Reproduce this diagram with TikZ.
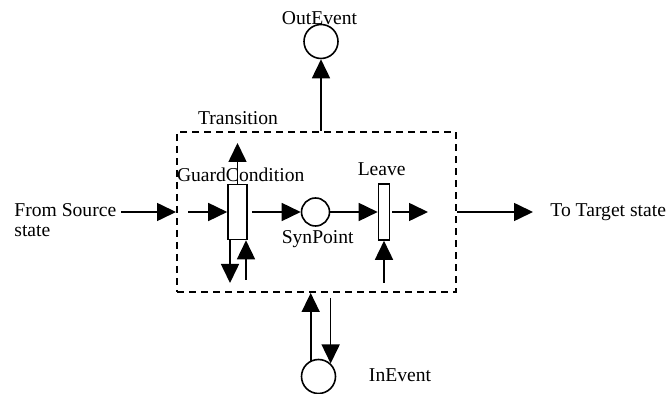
\documentclass[tikz,border=0pt]{standalone}
\usepackage{fontspec}
\setmainfont{Liberation Serif}
\usetikzlibrary{arrows.meta}

\tikzset{
  arr/.style={line width=0.8pt,-{Triangle[length=9.5pt,width=9pt]}},
  bar/.style={draw,line width=0.8pt,minimum width=9.5pt,minimum height=27.5pt,inner sep=0pt},
  place/.style={draw,circle,line width=0.8pt,minimum size=17pt,inner sep=0pt},
  lbl/.style={inner sep=0pt,anchor=base,font=\fontsize{9.8}{10}\selectfont},
}

\begin{document}
\begin{tikzpicture}[x=0.5pt,y=-0.5pt]
\useasboundingbox (0,0) rectangle (668,394);

%% transition box
\node[draw,dash pattern=on 3.5pt off 2.5pt,line width=1pt,minimum width=139.5pt,minimum height=80pt,inner sep=0pt] (trans) at (316.5,212) {};

%% bars and places
\node[bar] (guard) at (237.5,212) {};
\node[bar,minimum width=5.5pt,minimum height=28pt] (leave) at (384,212) {};
\node[place,minimum size=14pt] (syn) at (315.5,212) {};
\node[place] (outev) at (321,41.5) {};
\node[place] (inev) at (318.5,376.5) {};

%% labels
\node[lbl] (translbl) at (238,125) {Transition};
\node[lbl] (guardlbl) at (240.7,181.7) {GuardCondition};
\node[lbl] (leavelbl) at (381.7,176) {Leave};
\node[lbl] (synlbl) at (317.7,244) {SynPoint};
\node[lbl] (outlbl) at (319.5,25) {OutEvent};
\node[lbl] (inlbl) at (400,381.7) {InEvent};
\node[lbl,anchor=base west] (tgt) at (550,217) {To Target state};
\node[lbl,anchor=west,align=left] (src) at (14,220) {From Source\\state};

%% free ends
\coordinate (srcout) at (121,212);
\coordinate (gin) at (188,212);
\coordinate (lout) at (428,212);
\coordinate (tin) at (533,212);
\coordinate (gup) at (237.5,143);
\coordinate (gdown) at (230,283);
\coordinate (gbelow) at (246,280);
\coordinate (lbelow) at (384,283);
\coordinate (inbox) at (inev.47 |- trans.south);

%%% arrows
\draw[arr] (srcout) -- (trans.west);
\draw[arr] (trans.east) -- (tin);
\draw[arr] (gin) -- (guard.west);
\draw[arr] ([xshift=2pt]guard.east) -- (syn.west);
\draw[arr] (syn.east) -- (leave.west);
\draw[arr] ([xshift=1pt]leave.east) -- (lout);
\draw[arr] (guard.north) -- (gup);
\draw[arr] ([xshift=-3.75pt]guard.south) -- (gdown);
\draw[arr] (gbelow) -- ([xshift=4.25pt]guard.south);
\draw[arr] (lbelow) -- (leave.south);
\draw[arr] (outev |- trans.north) -- (outev.south);
\draw[arr] (inev.116) -- (inev.116 |- trans.south);
\draw[arr] ([yshift=-2.5pt]inbox) -- (inev.47);

\end{tikzpicture}
\end{document}
